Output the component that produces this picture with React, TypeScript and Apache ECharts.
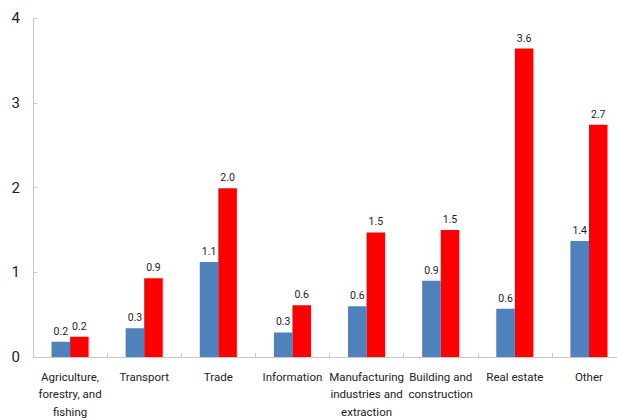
import React, { useEffect, useRef } from "react";
import * as echarts from "echarts";

const categories = [
  "Agriculture,\nforestry, and\nfishing",
  "Transport",
  "Trade",
  "Information",
  "Manufacturing\nindustries and\nextraction",
  "Building and\nconstruction",
  "Real estate",
  "Other",
];
const blueValues = [0.18, 0.34, 1.12, 0.29, 0.6, 0.9, 0.57, 1.37];
const redValues = [0.24, 0.93, 1.99, 0.61, 1.47, 1.5, 3.64, 2.74];
const yTicks = [0, 1, 2, 3, 4];

const FONT = "Roboto, 'Liberation Sans', sans-serif";

export default function App() {
  const ref = useRef<HTMLDivElement>(null);
  useEffect(() => {
    document.body.style.margin = "0";
    if (!ref.current) return;
    const chart = echarts.init(ref.current, null, { renderer: "svg" });
    const label = {
      show: true,
      position: "top" as const,
      distance: 5,
      color: "#222",
      fontSize: 10.5,
      fontFamily: FONT,
      formatter: (p: any) => Number(p.value).toFixed(1),
    };
    chart.setOption({
      animation: false,
      grid: {
        left: 33,
        right: -9,
        top: 18,
        bottom: 63,
        containLabel: false,
        outerBoundsMode: "none",
      },
      xAxis: {
        type: "category",
        data: categories,
        axisLine: { lineStyle: { color: "#c8c8c8", width: 1 } },
        axisTick: { show: true, inside: true, length: 4, lineStyle: { color: "#c8c8c8" } },
        axisLabel: {
          interval: 0,
          color: "#222",
          fontSize: 11.5,
          lineHeight: 17.4,
          margin: 11,
          fontFamily: FONT,
        },
      },
      yAxis: {
        type: "value",
        min: yTicks[0],
        max: yTicks[yTicks.length - 1],
        interval: 1,
        splitLine: { show: false },
        axisLine: { show: true, lineStyle: { color: "#c8c8c8", width: 1 } },
        axisTick: { show: true, inside: true, length: 4, lineStyle: { color: "#c8c8c8" } },
        axisLabel: { color: "#222", fontSize: 15, margin: 13, fontFamily: FONT },
      },
      series: [
        {
          type: "bar",
          data: blueValues,
          barGap: "0%",
          barCategoryGap: "50%",
          itemStyle: { color: "#4f81bd" },
          label,
        },
        {
          type: "bar",
          data: redValues,
          barGap: "0%",
          barCategoryGap: "50%",
          itemStyle: { color: "#ff0000" },
          label,
        },
      ],
    });
    return () => chart.dispose();
  }, []);
  return <div ref={ref} style={{ width: 617, height: 420 }} />;
}
